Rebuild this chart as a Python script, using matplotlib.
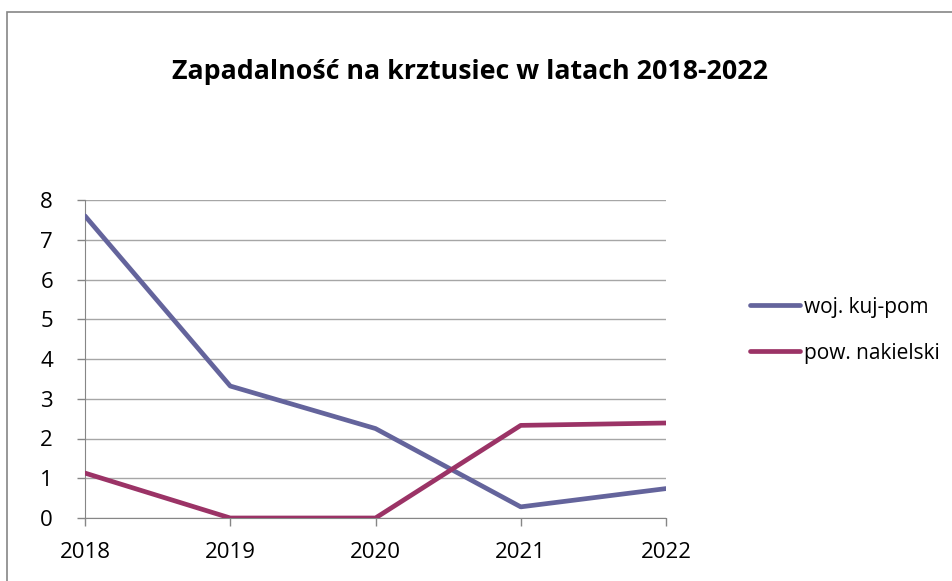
import matplotlib
matplotlib.use("Agg")
import matplotlib.pyplot as plt
from matplotlib.patches import Rectangle
from matplotlib.lines import Line2D

years = ["2018", "2019", "2020", "2021", "2022"]
woj = [7.6, 3.32, 2.25, 0.28, 0.74]
pow_nak = [1.13, 0.0, 0.0, 2.33, 2.39]
series_names = ["woj. kuj-pom", "pow. nakielski"]
title = "Zapadalność na krztusiec w latach 2018-2022"

plt.rcParams['font.family'] = ['Open Sans', 'DejaVu Sans']

fig = plt.figure(figsize=(9.53, 5.81), dpi=100)
fig.patch.set_facecolor("white")
fig.add_artist(Rectangle((7/953, -0.05), 1.05, 1.05 - 12/581,
                         transform=fig.transFigure, fill=False,
                         edgecolor="#868686", linewidth=1.2))

ax = fig.add_axes([85/953, 1-518/581, (666-85)/953, (518-200)/581])
x = list(range(len(years)))
c1 = "#64649c"
c2 = "#9b3366"
lw = 3.4
ax.plot(x, woj, color=c1, linewidth=lw, solid_capstyle="round", solid_joinstyle="round", zorder=3)
ax.plot(x, pow_nak, color=c2, linewidth=lw, solid_capstyle="round", solid_joinstyle="round", zorder=3)

ax.set_xlim(0, 4)
ax.set_ylim(0, 8)
ax.set_yticks(range(0, 9))
ax.set_xticks(x)
ax.set_xticklabels(years)
ax.grid(axis="y", color="#a6a6a6", linewidth=1.0)
ax.set_axisbelow(True)
for s in ["top", "right"]:
    ax.spines[s].set_visible(False)
ax.spines["left"].set_color("#868686")
ax.spines["bottom"].set_color("#868686")
ax.tick_params(axis="both", colors="#868686", labelcolor="black", labelsize=16,
               length=6, width=1)
ax.tick_params(axis="y", pad=17)
ax.tick_params(axis="x", pad=11)
for lbl in ax.get_xticklabels() + ax.get_yticklabels():
    lbl.set_clip_on(False)

fig.text(470/953, 1-72/581, title, ha="center", va="center", fontsize=19.3, fontweight="bold")

handles = [Line2D([0], [0], color=c1, linewidth=lw, solid_capstyle="round"),
           Line2D([0], [0], color=c2, linewidth=lw, solid_capstyle="round")]
fig.legend(handles, series_names, loc="center left", bbox_to_anchor=(731/953, 1-330/581),
           frameon=False, fontsize=15.0, handlelength=2.4, handletextpad=0.2, labelspacing=1.2)

fig.savefig("out.png", dpi=100)
